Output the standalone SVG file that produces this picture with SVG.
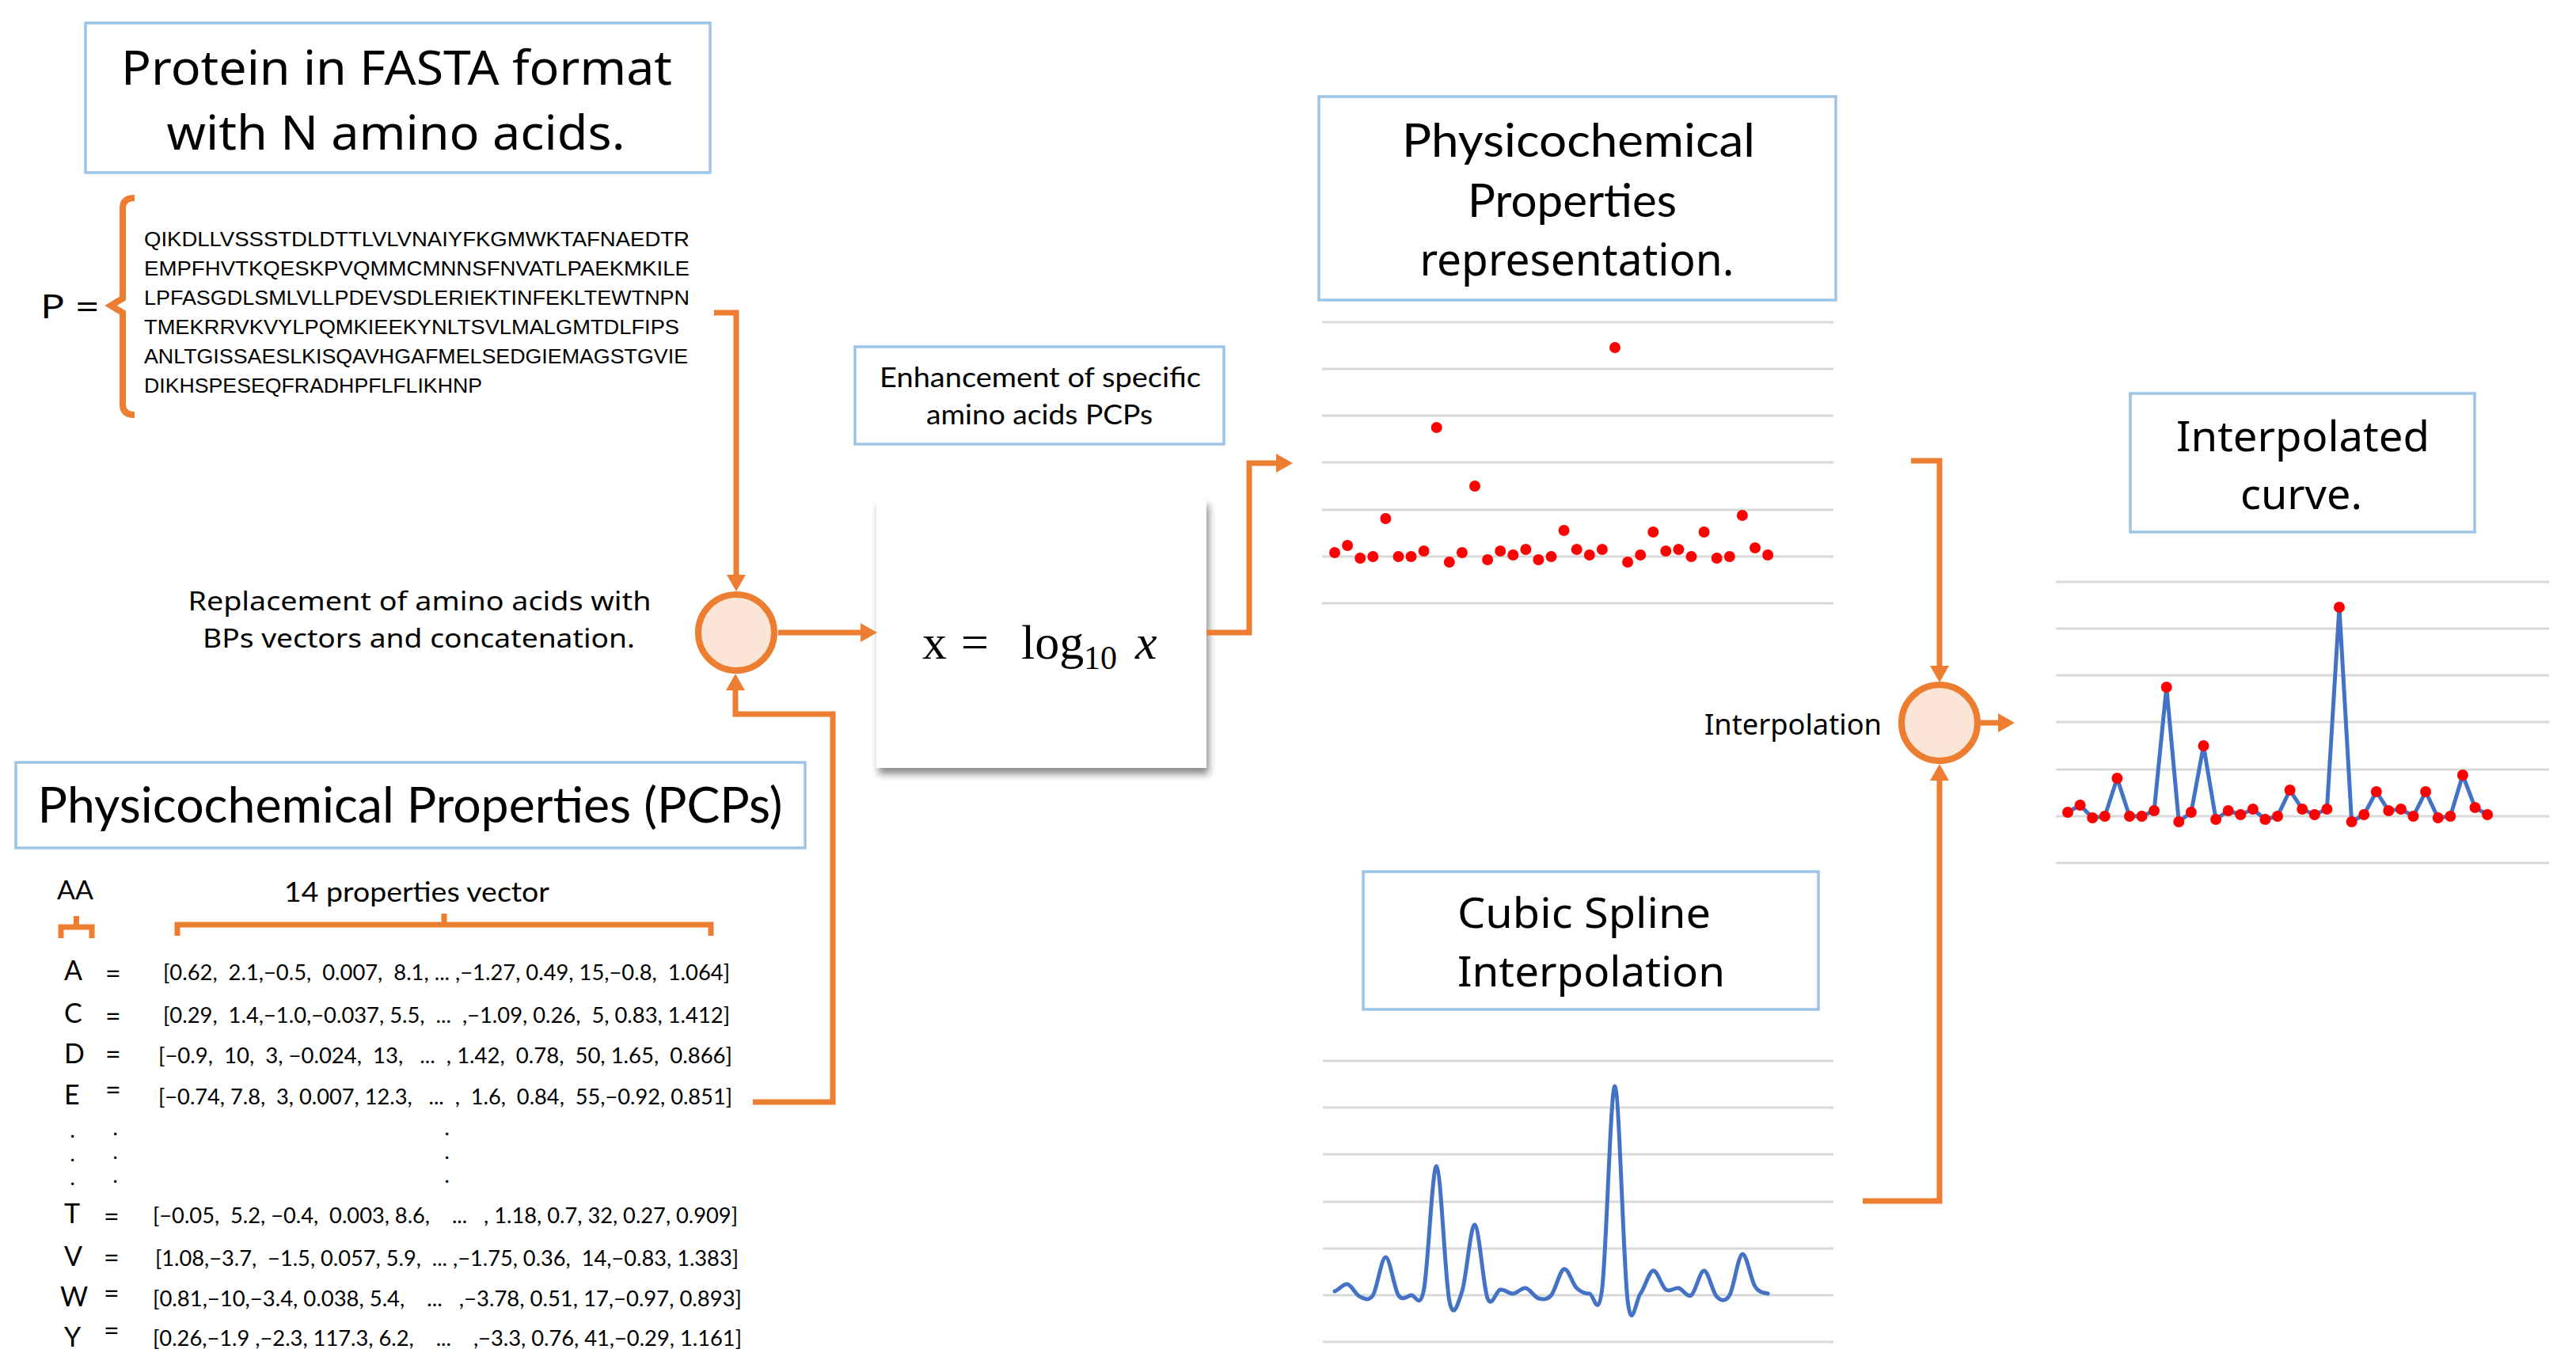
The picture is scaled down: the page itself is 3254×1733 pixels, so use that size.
<svg xmlns="http://www.w3.org/2000/svg" width="3254" height="1733" viewBox="0 0 3254 1733">
<defs>
<style>
.box{fill:#fff;stroke:#9DC3E6;stroke-width:3.5}
.geo{font-family:"Noto Sans","Open Sans",sans-serif;fill:#000}
.cal{font-family:Lato,"Noto Sans",sans-serif;fill:#000}
.seq{font-family:"Liberation Sans",Arial,sans-serif;font-size:25px;fill:#000}
.math{font-family:"Liberation Serif","DejaVu Serif",serif;fill:#000}
.con{fill:none;stroke:#ED7D31;stroke-width:7}
.node{fill:#FBE5D6;stroke:#ED7D31;stroke-width:8}
.grid{stroke:#D9D9D9;stroke-width:3}
.dot{fill:#FF0000}
.vec{font-family:Lato,"Noto Sans",sans-serif;font-size:26px;fill:#000}
.aa{font-family:Lato,"Noto Sans",sans-serif;font-size:34px;fill:#000}
.ell{font-family:Lato,"Noto Sans",sans-serif;font-size:22px;font-weight:bold;fill:#000}
</style>
<marker id="arr" markerUnits="userSpaceOnUse" markerWidth="22" markerHeight="24" refX="0" refY="12" orient="auto" viewBox="0 0 22 24">
<path d="M0,0 L21,12 L0,24 z" fill="#ED7D31"/>
</marker>
<filter id="shadow" x="-10%" y="-10%" width="125%" height="130%">
<feGaussianBlur in="SourceAlpha" stdDeviation="5"/>
<feOffset dx="3" dy="8" result="b"/>
<feFlood flood-color="#000" flood-opacity="0.45"/>
<feComposite in2="b" operator="in"/>
<feMerge><feMergeNode/><feMergeNode in="SourceGraphic"/></feMerge>
</filter>
</defs>
<rect width="3254" height="1733" fill="#fff"/>

<g id="box-fasta">
<rect class="box" x="108" y="29" width="789" height="189"/>
<text class="geo" x="501" y="107" font-size="60" text-anchor="middle" textLength="696" lengthAdjust="spacingAndGlyphs">Protein in FASTA format</text>
<text class="geo" x="500" y="189" font-size="60" text-anchor="middle" textLength="579" lengthAdjust="spacingAndGlyphs">with N amino acids.</text>
</g>

<g id="sequence">
<text class="geo" x="51" y="402" font-size="42" textLength="74" lengthAdjust="spacingAndGlyphs">P =</text>
<path d="M170,250 Q155,250 155,263 L155,377 L140,386 L155,395 L155,511 Q155,524 170,524" fill="none" stroke="#ED7D31" stroke-width="8"/>
<text class="seq" x="182" y="311" textLength="689" lengthAdjust="spacingAndGlyphs">QIKDLLVSSSTDLDTTLVLVNAIYFKGMWKTAFNAEDTR</text>
<text class="seq" x="182" y="348" textLength="689" lengthAdjust="spacingAndGlyphs">EMPFHVTKQESKPVQMMCMNNSFNVATLPAEKMKILE</text>
<text class="seq" x="182" y="385" textLength="689" lengthAdjust="spacingAndGlyphs">LPFASGDLSMLVLLPDEVSDLERIEKTINFEKLTEWTNPN</text>
<text class="seq" x="182" y="422" textLength="676" lengthAdjust="spacingAndGlyphs">TMEKRRVKVYLPQMKIEEKYNLTSVLMALGMTDLFIPS</text>
<text class="seq" x="182" y="459" textLength="687" lengthAdjust="spacingAndGlyphs">ANLTGISSAESLKISQAVHGAFMELSEDGIEMAGSTGVIE</text>
<text class="seq" x="182" y="496" textLength="427" lengthAdjust="spacingAndGlyphs">DIKHSPESEQFRADHPFLFLIKHNP</text>
</g>

<g id="label-replacement">
<text class="geo" x="530" y="771" font-size="32" text-anchor="middle" textLength="585" lengthAdjust="spacingAndGlyphs">Replacement of amino acids with</text>
<text class="geo" x="529" y="818" font-size="32" text-anchor="middle" textLength="546" lengthAdjust="spacingAndGlyphs">BPs vectors and concatenation.</text>
</g>

<g id="circle-concat">
<circle class="node" cx="930" cy="799" r="48"/>
</g>

<g id="box-pcp">
<rect class="box" x="20" y="963" width="997" height="108"/>
<text class="cal" x="518" y="1039" font-size="61" text-anchor="middle" textLength="941" lengthAdjust="spacingAndGlyphs">Physicochemical Properties (PCPs)</text>
</g>

<g id="pcp-table">
<text class="cal" x="72" y="1136" font-size="32" textLength="46" lengthAdjust="spacingAndGlyphs">AA</text>
<text class="cal" x="359" y="1139" font-size="35" textLength="335" lengthAdjust="spacingAndGlyphs">14 properties vector</text>
<path d="M77,1185 V1171 H116 V1185 M96.5,1171 V1157" fill="none" stroke="#ED7D31" stroke-width="7"/>
<path d="M224,1182 V1168 H898 V1182 M561,1168 V1154" fill="none" stroke="#ED7D31" stroke-width="7"/>
<text class="aa" x="81" y="1238">A</text><text class="aa" x="133" y="1242">=</text>
<text class="vec" x="206" y="1238" xml:space="preserve" textLength="716" lengthAdjust="spacingAndGlyphs">[0.62,  2.1,−0.5,  0.007,  8.1, ... ,−1.27, 0.49, 15,−0.8,  1.064]</text>
<text class="aa" x="81" y="1292">C</text><text class="aa" x="133" y="1296">=</text>
<text class="vec" x="206" y="1292" xml:space="preserve" textLength="716" lengthAdjust="spacingAndGlyphs">[0.29,  1.4,−1.0,−0.037, 5.5,  ...  ,−1.09, 0.26,  5, 0.83, 1.412]</text>
<text class="aa" x="81" y="1343">D</text><text class="aa" x="133" y="1344">=</text>
<text class="vec" x="200" y="1343" xml:space="preserve" textLength="725" lengthAdjust="spacingAndGlyphs">[−0.9,  10,  3, −0.024,  13,   ...  , 1.42,  0.78,  50, 1.65,  0.866]</text>
<text class="aa" x="81" y="1395">E</text><text class="aa" x="133" y="1389">=</text>
<text class="vec" x="200" y="1395" xml:space="preserve" textLength="725" lengthAdjust="spacingAndGlyphs">[−0.74, 7.8,  3, 0.007, 12.3,   ...  ,  1.6,  0.84,  55,−0.92, 0.851]</text>
<text class="ell" x="89" y="1437">.</text><text class="ell" x="143" y="1434">.</text><text class="ell" x="562" y="1434">.</text>
<text class="ell" x="89" y="1467">.</text><text class="ell" x="143" y="1464">.</text><text class="ell" x="562" y="1464">.</text>
<text class="ell" x="89" y="1497">.</text><text class="ell" x="143" y="1494">.</text><text class="ell" x="562" y="1494">.</text>
<text class="aa" x="81" y="1545">T</text><text class="aa" x="131" y="1549">=</text>
<text class="vec" x="193" y="1545" xml:space="preserve" textLength="739" lengthAdjust="spacingAndGlyphs">[−0.05,  5.2, −0.4,  0.003, 8.6,    ...   , 1.18, 0.7, 32, 0.27, 0.909]</text>
<text class="aa" x="81" y="1599">V</text><text class="aa" x="131" y="1601">=</text>
<text class="vec" x="196" y="1599" xml:space="preserve" textLength="737" lengthAdjust="spacingAndGlyphs">[1.08,−3.7,  −1.5, 0.057, 5.9,  ... ,−1.75, 0.36,  14,−0.83, 1.383]</text>
<text class="aa" x="76" y="1650">W</text><text class="aa" x="131" y="1646">=</text>
<text class="vec" x="193" y="1650" xml:space="preserve" textLength="744" lengthAdjust="spacingAndGlyphs">[0.81,−10,−3.4, 0.038, 5.4,    ...   ,−3.78, 0.51, 17,−0.97, 0.893]</text>
<text class="aa" x="81" y="1701">Y</text><text class="aa" x="131" y="1693">=</text>
<text class="vec" x="193" y="1700" xml:space="preserve" textLength="744" lengthAdjust="spacingAndGlyphs">[0.26,−1.9 ,−2.3, 117.3, 6.2,    ...    ,−3.3, 0.76, 41,−0.29, 1.161]</text>
</g>

<g id="box-enhancement">
<rect class="box" x="1080" y="438" width="466" height="123"/>
<text class="cal" x="1314" y="489" font-size="35" text-anchor="middle" textLength="406" lengthAdjust="spacingAndGlyphs">Enhancement of specific</text>
<text class="cal" x="1313" y="536" font-size="35" text-anchor="middle" textLength="286" lengthAdjust="spacingAndGlyphs">amino acids PCPs</text>
</g>

<g id="formula">
<rect x="1107" y="630" width="417" height="340" fill="#fff" filter="url(#shadow)"/>
<text class="math" y="832" font-size="62"><tspan x="1165">x</tspan><tspan x="1214">=</tspan><tspan x="1290">log</tspan><tspan x="1369" y="845" font-size="42">10</tspan><tspan x="1434" y="832" font-style="italic">x</tspan></text>
</g>

<g id="box-representation">
<rect class="box" x="1666" y="122" width="653" height="257"/>
<text class="cal" x="1994" y="198" font-size="58" text-anchor="middle" textLength="446" lengthAdjust="spacingAndGlyphs">Physicochemical</text>
<text class="cal" x="1986" y="274" font-size="58" text-anchor="middle" textLength="264" lengthAdjust="spacingAndGlyphs">Properties</text>
<text class="geo" x="1992" y="348" font-size="56" text-anchor="middle" textLength="397" lengthAdjust="spacingAndGlyphs">representation.</text>
</g>

<g id="chart-scatter">
<g class="grid">
<line x1="1670" y1="407" x2="2316" y2="407"/><line x1="1670" y1="466" x2="2316" y2="466"/><line x1="1670" y1="525" x2="2316" y2="525"/><line x1="1670" y1="584" x2="2316" y2="584"/><line x1="1670" y1="644" x2="2316" y2="644"/><line x1="1670" y1="703" x2="2316" y2="703"/><line x1="1670" y1="762" x2="2316" y2="762"/>
</g>
<g class="dot" transform="translate(1686,703)">
<circle cx="0" cy="-5" r="7"/><circle cx="16.1" cy="-14" r="7"/><circle cx="32.2" cy="2" r="7"/><circle cx="48.3" cy="0" r="7"/><circle cx="64.4" cy="-48" r="7"/><circle cx="80.5" cy="0" r="7"/><circle cx="96.5" cy="0" r="7"/><circle cx="112.6" cy="-7" r="7"/><circle cx="128.7" cy="-163" r="7"/><circle cx="144.8" cy="7" r="7"/><circle cx="160.9" cy="-5" r="7"/><circle cx="177" cy="-89" r="7"/><circle cx="193.1" cy="4" r="7"/><circle cx="209.2" cy="-7" r="7"/><circle cx="225.3" cy="-2" r="7"/><circle cx="241.4" cy="-9" r="7"/><circle cx="257.4" cy="4" r="7"/><circle cx="273.5" cy="0" r="7"/><circle cx="289.6" cy="-33" r="7"/><circle cx="305.7" cy="-9" r="7"/><circle cx="321.8" cy="-2" r="7"/><circle cx="337.9" cy="-9" r="7"/><circle cx="354" cy="-264" r="7"/><circle cx="370.1" cy="7" r="7"/><circle cx="386.2" cy="-2" r="7"/><circle cx="402.3" cy="-31" r="7"/><circle cx="418.3" cy="-7" r="7"/><circle cx="434.4" cy="-9" r="7"/><circle cx="450.5" cy="0" r="7"/><circle cx="466.6" cy="-31" r="7"/><circle cx="482.7" cy="2" r="7"/><circle cx="498.8" cy="0" r="7"/><circle cx="514.9" cy="-52" r="7"/><circle cx="531" cy="-11" r="7"/><circle cx="547.1" cy="-2" r="7"/>
</g>
</g>

<g id="label-interpolation">
<text class="geo" x="2153" y="928" font-size="36" textLength="224" lengthAdjust="spacingAndGlyphs">Interpolation</text>
</g>

<g id="circle-interp">
<circle class="node" cx="2450" cy="913" r="48"/>
</g>

<g id="box-interpolated">
<rect class="box" x="2691" y="497" width="435" height="175"/>
<text class="geo" x="2909" y="570" font-size="52" text-anchor="middle" textLength="320" lengthAdjust="spacingAndGlyphs">Interpolated</text>
<text class="geo" x="2907" y="643" font-size="52" text-anchor="middle" textLength="154" lengthAdjust="spacingAndGlyphs">curve.</text>
</g>

<g id="chart-interpolated">
<g class="grid">
<line x1="2597" y1="735" x2="3220" y2="735"/><line x1="2597" y1="794" x2="3220" y2="794"/><line x1="2597" y1="853" x2="3220" y2="853"/><line x1="2597" y1="912" x2="3220" y2="912"/><line x1="2597" y1="972" x2="3220" y2="972"/><line x1="2597" y1="1031" x2="3220" y2="1031"/><line x1="2597" y1="1090" x2="3220" y2="1090"/>
</g>
<g transform="translate(2612,1031)">
<polyline fill="none" stroke="#4472C4" stroke-width="5" stroke-linejoin="round" points="0,-5 15.6,-14 31.2,2 46.8,0 62.4,-48 78,0 93.5,0 109.1,-7 124.7,-163 140.3,7 155.9,-5 171.5,-89 187.1,4 202.7,-7 218.3,-2 233.9,-9 249.4,4 265,0 280.6,-33 296.2,-9 311.8,-2 327.4,-9 343,-264 358.6,7 374.2,-2 389.8,-31 405.3,-7 420.9,-9 436.5,0 452.1,-31 467.7,2 483.3,0 498.9,-52 514.5,-11 530.1,-2"/>
<g class="dot">
<circle cx="0" cy="-5" r="7"/><circle cx="15.6" cy="-14" r="7"/><circle cx="31.2" cy="2" r="7"/><circle cx="46.8" cy="0" r="7"/><circle cx="62.4" cy="-48" r="7"/><circle cx="78" cy="0" r="7"/><circle cx="93.5" cy="0" r="7"/><circle cx="109.1" cy="-7" r="7"/><circle cx="124.7" cy="-163" r="7"/><circle cx="140.3" cy="7" r="7"/><circle cx="155.9" cy="-5" r="7"/><circle cx="171.5" cy="-89" r="7"/><circle cx="187.1" cy="4" r="7"/><circle cx="202.7" cy="-7" r="7"/><circle cx="218.3" cy="-2" r="7"/><circle cx="233.9" cy="-9" r="7"/><circle cx="249.4" cy="4" r="7"/><circle cx="265" cy="0" r="7"/><circle cx="280.6" cy="-33" r="7"/><circle cx="296.2" cy="-9" r="7"/><circle cx="311.8" cy="-2" r="7"/><circle cx="327.4" cy="-9" r="7"/><circle cx="343" cy="-264" r="7"/><circle cx="358.6" cy="7" r="7"/><circle cx="374.2" cy="-2" r="7"/><circle cx="389.8" cy="-31" r="7"/><circle cx="405.3" cy="-7" r="7"/><circle cx="420.9" cy="-9" r="7"/><circle cx="436.5" cy="0" r="7"/><circle cx="452.1" cy="-31" r="7"/><circle cx="467.7" cy="2" r="7"/><circle cx="483.3" cy="0" r="7"/><circle cx="498.9" cy="-52" r="7"/><circle cx="514.5" cy="-11" r="7"/><circle cx="530.1" cy="-2" r="7"/>
</g>
</g>
</g>

<g id="box-spline">
<rect class="box" x="1722" y="1101" width="575" height="174"/>
<text class="geo" x="1841" y="1172" font-size="52" textLength="320" lengthAdjust="spacingAndGlyphs">Cubic Spline</text>
<text class="geo" x="1841" y="1246" font-size="52" textLength="338" lengthAdjust="spacingAndGlyphs">Interpolation</text>
</g>

<g id="chart-spline">
<g class="grid">
<line x1="1671" y1="1340" x2="2316" y2="1340"/><line x1="1671" y1="1399" x2="2316" y2="1399"/><line x1="1671" y1="1458" x2="2316" y2="1458"/><line x1="1671" y1="1518" x2="2316" y2="1518"/><line x1="1671" y1="1577" x2="2316" y2="1577"/><line x1="1671" y1="1636" x2="2316" y2="1636"/><line x1="1671" y1="1695" x2="2316" y2="1695"/>
</g>
<path transform="translate(1686,1636)" fill="none" stroke="#4472C4" stroke-width="5" stroke-linecap="round" stroke-linejoin="round" d="M0,-5 C5.36,-6.5 10.73,-15.2 16.09,-14 S26.82,-0.3 32.18,2 S42.91,8.3 48.27,0 S59,-48 64.36,-48 S75.09,-8 80.45,0 S91.18,1.2 96.54,0 S107.27,20.2 112.63,-7 S123.36,-165.3 128.72,-163 S139.45,-19.3 144.81,7 S155.54,11 160.9,-5 S171.63,-90.5 176.99,-89 S187.72,-9.7 193.08,4 S203.81,-6 209.17,-7 S219.9,-1.7 225.26,-2 S235.99,-10 241.35,-9 S252.08,2.5 257.44,4 S268.17,6.2 273.53,0 S284.26,-31.5 289.62,-33 S300.35,-14.2 305.71,-9 S316.44,-2 321.8,-2 S332.53,34.7 337.89,-9 S348.62,-266.7 353.98,-264 S364.71,-36.7 370.07,7 S380.8,4.3 386.16,-2 S396.89,-30.2 402.25,-31 S412.98,-10.7 418.34,-7 S429.07,-10.2 434.43,-9 S445.16,3.7 450.52,0 S461.25,-31.3 466.61,-31 S477.34,-3.2 482.7,2 S493.43,9 498.79,0 S509.52,-50.2 514.88,-52 S525.61,-19.3 530.97,-11 S541.7,-3.5 547.06,-2"/>
</g>

<g id="connectors">
<path class="con" d="M902,395 H930 V726" marker-end="url(#arr)"/>
<path class="con" d="M983,799 H1087" marker-end="url(#arr)"/>
<path class="con" d="M951,1392 H1052 V902 H929 V872" marker-end="url(#arr)"/>
<path class="con" d="M1524,799 H1578 V585 H1612" marker-end="url(#arr)"/>
<path class="con" d="M2414,582 H2450 V841" marker-end="url(#arr)"/>
<path class="con" d="M2353,1517 H2450 V986" marker-end="url(#arr)"/>
<path class="con" d="M2502,913 H2524" marker-end="url(#arr)"/>
</g>
</svg>
